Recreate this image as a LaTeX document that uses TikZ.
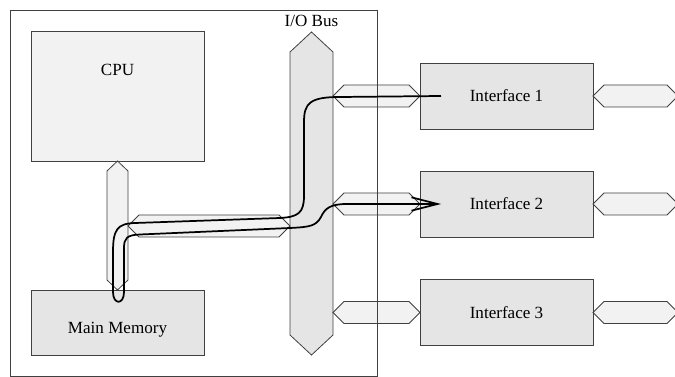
\documentclass[tikz,border=0pt]{standalone}
\usepackage{fontspec}
\setmainfont{Liberation Serif}
\usepackage{tikz}
\usetikzlibrary{calc,arrows.meta}

\definecolor{lightfill}{HTML}{F2F2F2}
\definecolor{midfill}{HTML}{E5E5E5}
\definecolor{edgegray}{HTML}{404040}

\newcommand\vlink[2]{\draw[link] (#1) -- ++(10.5,10) -- ($(#2)+(10.5,-10)$) -- (#2) -- ($(#2)+(-10.5,-10)$) -- ($(#1)+(-10.5,10)$) -- cycle;}
\newcommand\hlink[2]{\draw[link] (#1) -- ++(11,-11) -- ($(#2)+(-11,-11)$) -- (#2) -- ($(#2)+(-11,11)$) -- ($(#1)+(11,11)$) -- cycle;}

\begin{document}
\begin{tikzpicture}[x=0.75pt,y=-0.75pt,
  unit/.style={draw=edgegray,line width=0.6pt,inner sep=0pt,outer sep=0pt},
  link/.style={draw=edgegray,line width=0.6pt,fill=lightfill},
  flow/.style={line width=1.3pt,black,line join=round},
  lbl/.style={font=\fontsize{12.8}{15}\selectfont,text depth=0pt,inner sep=0pt}]
\useasboundingbox (0,0) rectangle (675,377);

\node[unit,fill=lightfill,minimum width=129.75pt,minimum height=97.5pt] (cpu) at (117.5,96) {};
\node[unit,fill=midfill,minimum width=129.75pt,minimum height=48.75pt] (mem) at (117.5,322.5) {};
\node[lbl] (cpulabel) at (117.5,70) {CPU};
\node[lbl] (memlabel) at (117.5,328) {Main Memory};

\node[unit,fill=midfill,minimum width=129.75pt,minimum height=49.5pt,font=\fontsize{12.8}{15}\selectfont] (if1) at (506.5,96) {Interface 1};
\node[unit,fill=midfill,minimum width=129.75pt,minimum height=49.5pt,font=\fontsize{12.8}{15}\selectfont] (if2) at (506.5,204) {Interface 2};
\node[unit,fill=midfill,minimum width=129.75pt,minimum height=49.5pt,font=\fontsize{12.8}{15}\selectfont] (if3) at (506.5,312.5) {Interface 3};

\coordinate (bustop) at (311.5,32);
\coordinate (busbot) at (311.5,355);
\draw[link,fill=midfill] (bustop) -- ++(21.5,20) -- ($(busbot)+(21.5,-20)$) -- (busbot) -- ($(busbot)+(-21.5,-20)$) -- ($(bustop)+(-21.5,20)$) -- cycle;
\node[lbl] (buslabel) at (311.5,21) {I/O Bus};

\vlink{cpu.south}{mem.north}
\coordinate (membus) at (128,226);
\coordinate (busmem) at (290,226);
\hlink{membus}{busmem}

\coordinate (busport1) at (333,96);
\coordinate (busport2) at (333,204);
\coordinate (busport3) at (333,312.5);
\hlink{busport1}{if1.west}
\hlink{busport2}{if2.west}
\hlink{busport3}{if3.west}

\coordinate (out1) at (678,96);
\coordinate (out2) at (678,204);
\coordinate (out3) at (678,312.5);
\hlink{if1.east}{out1}
\hlink{if2.east}{out2}
\hlink{if3.east}{out3}

\draw[edgegray,line width=0.6pt] (10,10) rectangle (377,376.6);

\coordinate (if1in) at ($(if1.west)+(21,0)$);
\coordinate (if2in) at ($(if2.west)+(21,0)$);
\draw[flow,-{Straight Barb[length=19.5pt,width=10pt]}] (if1in) -- (340,97)
  .. controls (310,97) and (304,103) .. (304,122) -- (304,196)
  .. controls (304,213) and (298,217) .. (280,218) -- (135,223)
  .. controls (117,223.5) and (113,230) .. (113,252) -- (113,292)
  .. controls (113,305) and (124,305) .. (124,292) -- (124,248)
  .. controls (124,238) and (127,235) .. (140,234.5) -- (290,228)
  .. controls (310,227) and (316,226) .. (321,217)
  .. controls (325,208) and (331,204) .. (347,204) -- (if2in);
\end{tikzpicture}
\end{document}
